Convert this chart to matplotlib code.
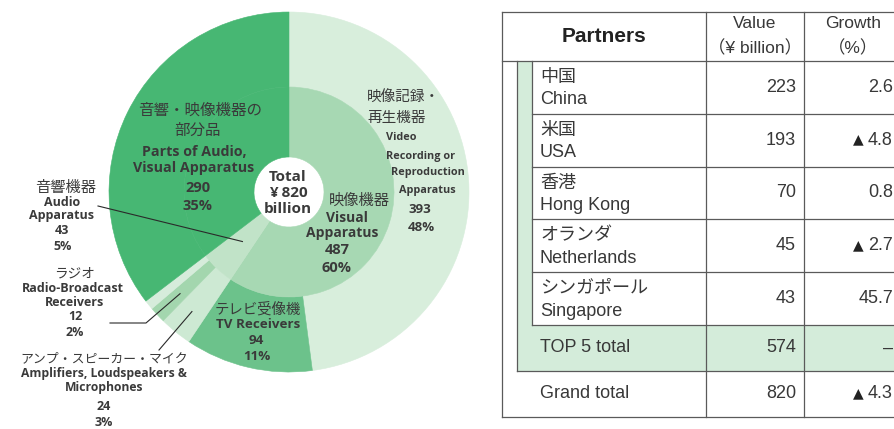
import numpy as np
import matplotlib.pyplot as plt
from matplotlib.patches import Rectangle

# inner ring: main product groups (¥ billion), clockwise from the top
group_jp = ['映像機器', '音響機器', '音響・映像機器の部分品']
group_values = [487, 43, 290]
group_pcts = ['60%', '5%', '35%']

# outer ring: items inside each group, same order
item_jp = ['映像記録・再生機器', 'テレビ受像機', 'アンプ・スピーカー・マイク', 'ラジオ', 'その他', '部分品']
item_values = [393, 94, 24, 12, 7, 290]
item_pcts = ['48%', '11%', '3%', '2%', '', '35%']
total_value = 820

# table of partners
partners_jp = ['中国', '米国', '香港', 'オランダ', 'シンガポール']
partners_en = ['China', 'USA', 'Hong Kong', 'Netherlands', 'Singapore']
partner_values = [223, 193, 70, 45, 43]
partner_growth = [2.6, -4.8, 0.8, -2.7, 45.7]
top5_total = 574
grand_total = 820
grand_growth = -4.3

W, H = 895, 429
JP = ['Noto Sans CJK JP', 'DejaVu Sans']
EN = ['Open Sans', 'DejaVu Sans']
TB = ['Liberation Sans', 'Noto Sans CJK JP', 'DejaVu Sans']
TXT = '#3a3a3a'

fig = plt.figure(figsize=(W / 100, H / 100), dpi=100)
ax = fig.add_axes([0, 0, 1, 1])


def Y(y):
    # pixel rows are measured from the top
    return H - y


# ---- donut ----
cx, cy = 289, Y(192)
R_out, R_mid, R_hole = 180, 105, 35
outer_colors = ['#d8eedc', '#6cc28b', '#cde9d3', '#a3d6ae', '#d6ecdb', '#47b773']
inner_colors = ['#a7d8b3', '#c1e3c8', '#47b773']

wo, _ = ax.pie(item_values, radius=R_out, center=(cx, cy), startangle=90,
               counterclock=False, colors=outer_colors, frame=True,
               wedgeprops=dict(width=R_out - R_mid))
wi, _ = ax.pie(group_values, radius=R_mid, center=(cx, cy), startangle=90,
               counterclock=False, colors=inner_colors, frame=True,
               wedgeprops=dict(width=R_mid - R_hole))
for w in list(wo) + list(wi):
    w.set_edgecolor(w.get_facecolor())
    w.set_linewidth(0.4)


def on_wedge(w, r):
    a = np.deg2rad((w.theta1 + w.theta2) / 2)
    return cx + r * np.cos(a), cy + r * np.sin(a)


def put(x, y, s, size, fam=EN, bold=True, ha='center', color=TXT):
    ax.text(x, Y(y), s, ha=ha, va='center', fontsize=size, family=fam,
            weight='bold' if bold else 'normal', color=color)


# centre
put(288, 177, 'Total', 11)
put(288, 193, '¥ %d' % total_value, 11)
put(288, 209, 'billion', 11)

# parts
put(200, 110, '音響・映像機器の', 11.2, JP, False)
put(198, 130, '部分品', 11.2, JP, False)
put(194, 152, 'Parts of Audio,', 10.3)
put(194, 168, 'Visual Apparatus', 10.3)
put(198, 188, str(group_values[2]), 10.5)
put(198, 206, group_pcts[2], 10.5)

# visual apparatus
put(359, 200, group_jp[0], 11, JP, False)
put(347, 218, 'Visual', 10)
put(342, 233, 'Apparatus', 10)
put(337, 250, str(group_values[0]), 10.5)
put(337, 268, group_pcts[0], 10.5)

# video recording
put(367, 98, '映像記録・', 10.5, JP, False, 'left')
put(367, 118, '再生機器', 10.5, JP, False, 'left')
put(386, 138, 'Video', 7.8, ha='left')
put(386, 156, 'Recording or', 7.8, ha='left')
put(391, 173, 'Reproduction', 7.8, ha='left')
put(399, 191, 'Apparatus', 7.8, ha='left')
put(420, 210, str(item_values[0]), 9.5)
put(421, 228, item_pcts[0], 9.5)

# tv receivers
put(258, 309, item_jp[1], 10.4, JP, False)
put(258, 324, 'TV Receivers', 9.6)
put(256, 340, str(item_values[1]), 9.6)
put(257, 356, item_pcts[1], 9.6)

# audio apparatus
put(66, 188, group_jp[1], 11, JP, False)
put(62, 203, 'Audio', 9)
put(62, 216, 'Apparatus', 9)
put(62, 231, str(group_values[1]), 9)
put(63, 247, group_pcts[1], 9)

# radio
put(75, 274, item_jp[3], 9.8, JP, False)
put(73, 289, 'Radio-Broadcast', 9)
put(75, 303, 'Receivers', 9)
put(75, 317, str(item_values[3]), 9)
put(75, 332, item_pcts[3], 9)

# amplifiers
put(104, 359, item_jp[2], 9.3, JP, False)
put(104, 374, 'Amplifiers, Loudspeakers &', 8.7)
put(104, 388, 'Microphones', 8.7)
put(104, 407, str(item_values[2]), 9)
put(104, 423, item_pcts[2], 9)

# leader lines
lk = dict(color='#2a2a2a', lw=0.8)
x1, y1 = on_wedge(wi[1], 68)
ax.plot([98, x1], [Y(206), y1], **lk)
x1, y1 = on_wedge(wo[3], 149)
ax.plot([110, 146, x1], [Y(323), Y(323), y1], **lk)
x1, y1 = on_wedge(wo[2], 154)
ax.plot([159, x1], [Y(350), y1], **lk)

# ---- table ----
L, R = 502, 905
c1, c2 = 706, 804
top, head_b, bot = 12, 61, 417
rows = np.linspace(61, 325, len(partners_en) + 1)
top5_b = 371
green = '#d4ecda'
line = dict(color='#5a5a5a', lw=0.9)

ax.add_patch(Rectangle((517, Y(325)), 532 - 517, 325 - 61, color=green, lw=0))
ax.add_patch(Rectangle((517, Y(top5_b)), R - 517, top5_b - 325, color=green, lw=0))

for yy in [top, head_b, bot]:
    ax.plot([L, R], [Y(yy), Y(yy)], **line)
ax.plot([517, R], [Y(top5_b), Y(top5_b)], **line)
for yy in rows[1:]:
    ax.plot([532, R], [Y(yy), Y(yy)], **line)
ax.plot([L, L], [Y(top), Y(bot)], **line)
ax.plot([517, 517], [Y(head_b), Y(top5_b)], **line)
ax.plot([532, 532], [Y(head_b), Y(325)], **line)
for xx in [c1, c2]:
    ax.plot([xx, xx], [Y(top), Y(bot)], **line)

TC = '#383838'
put(604, 37, 'Partners', 15, TB, True, color='#222222')
put(755, 24, 'Value', 12.5, TB, False, color=TC)
put(755, 48, '（¥ billion）', 12.5, TB, False, color=TC)
put(853, 24, 'Growth', 12.5, TB, False, color=TC)
put(853, 48, '（%）', 12.5, TB, False, color=TC)


def growth(y, g):
    put(893, y, '%.1f' % abs(g), 13, TB, False, 'right', TC)
    if g < 0:
        put(864, y - 1, '▲', 10, ['DejaVu Sans'], False, 'right', '#222222')


for i in range(len(partners_en)):
    t = rows[i]
    mid = (rows[i] + rows[i + 1]) / 2
    put(540, t + 16, partners_jp[i], 13, JP, False, 'left', TC)
    put(540, t + 39, partners_en[i], 13, TB, False, 'left', TC)
    put(796, mid, str(partner_values[i]), 13, TB, False, 'right', TC)
    growth(mid, partner_growth[i])

put(540, 348, 'TOP 5 total', 13, TB, False, 'left', TC)
put(796, 348, str(top5_total), 13, TB, False, 'right', TC)
put(893, 348, '–', 13, TB, False, 'right', TC)

put(540, 394, 'Grand total', 13, TB, False, 'left', TC)
put(796, 394, str(grand_total), 13, TB, False, 'right', TC)
growth(394, grand_growth)

ax.set_xlim(0, W)
ax.set_ylim(0, H)
ax.set_aspect('equal')
ax.axis('off')

fig.savefig('out.png', dpi=100, facecolor='white')
